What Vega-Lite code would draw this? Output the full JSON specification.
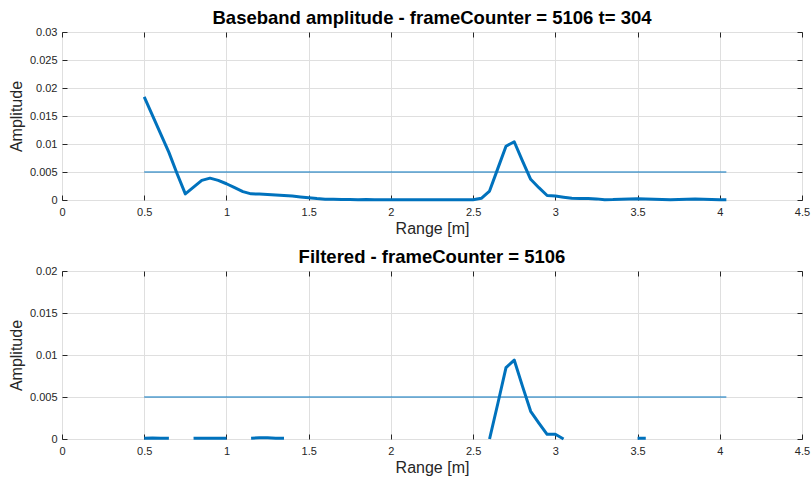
{
  "$schema": "https://vega.github.io/schema/vega-lite/v6.json",
  "padding": {"left": 7, "top": 8, "right": 5, "bottom": 4},
  "spacing": 71,
  "bounds": "flush",
  "background": "white",
  "config": {
    "font": "Liberation Sans",
    "view": {"stroke": "#262626", "strokeWidth": 1},
    "axis": {
      "labelFont": "Liberation Sans", "labelFontSize": 11, "labelColor": "#262626",
      "titleFont": "Liberation Sans", "titleFontSize": 16, "titleFontWeight": "normal", "titleColor": "#262626",
      "tickColor": "#262626", "tickSize": -5, "tickWidth": 1, "domain": false,
      "gridColor": "#dfdfdf", "gridWidth": 1, "labelFlush": false, "labelOverlap": false
    },
    "title": {"font": "Liberation Sans", "fontSize": 18.5, "fontWeight": "bold", "color": "#000000", "offset": -1, "anchor": "middle"}
  },
  "datasets": {
    "base": [
      {"x": 0.5, "y": 0.0184}, {"x": 0.55, "y": 0.0151}, {"x": 0.6, "y": 0.0118}, {"x": 0.65, "y": 0.0085},
      {"x": 0.7, "y": 0.0047}, {"x": 0.75, "y": 0.0011}, {"x": 0.8, "y": 0.0023}, {"x": 0.85, "y": 0.0035},
      {"x": 0.9, "y": 0.0039}, {"x": 0.95, "y": 0.0035}, {"x": 1.0, "y": 0.0029}, {"x": 1.05, "y": 0.0022},
      {"x": 1.1, "y": 0.0015}, {"x": 1.15, "y": 0.0011}, {"x": 1.2, "y": 0.00105}, {"x": 1.25, "y": 0.001},
      {"x": 1.3, "y": 0.0009}, {"x": 1.35, "y": 0.0008}, {"x": 1.4, "y": 0.0007}, {"x": 1.45, "y": 0.00055},
      {"x": 1.5, "y": 0.0004}, {"x": 1.55, "y": 0.00025}, {"x": 1.6, "y": 0.00015}, {"x": 1.65, "y": 0.00012},
      {"x": 1.7, "y": 0.0001}, {"x": 1.75, "y": 0.0001}, {"x": 1.8, "y": 0.00005}, {"x": 1.85, "y": 0.00008},
      {"x": 1.9, "y": 0.00006}, {"x": 1.95, "y": 0.00004}, {"x": 2.0, "y": 0.00005}, {"x": 2.05, "y": 0.00006},
      {"x": 2.1, "y": 0.00004}, {"x": 2.15, "y": 0.00005}, {"x": 2.2, "y": 0.00006}, {"x": 2.25, "y": 0.00004},
      {"x": 2.3, "y": 0.00005}, {"x": 2.35, "y": 0.00003}, {"x": 2.4, "y": 0.00005}, {"x": 2.45, "y": 0.00004},
      {"x": 2.5, "y": 0.00006}, {"x": 2.55, "y": 0.0003}, {"x": 2.6, "y": 0.0016}, {"x": 2.65, "y": 0.0056},
      {"x": 2.7, "y": 0.0096}, {"x": 2.75, "y": 0.0104}, {"x": 2.8, "y": 0.007}, {"x": 2.85, "y": 0.0037},
      {"x": 2.9, "y": 0.0022}, {"x": 2.95, "y": 0.0008}, {"x": 3.0, "y": 0.0007}, {"x": 3.05, "y": 0.0005},
      {"x": 3.1, "y": 0.0003}, {"x": 3.15, "y": 0.00028}, {"x": 3.2, "y": 0.00028}, {"x": 3.25, "y": 0.0002},
      {"x": 3.3, "y": 0.00005}, {"x": 3.35, "y": 0.00008}, {"x": 3.4, "y": 0.00015}, {"x": 3.45, "y": 0.0002},
      {"x": 3.5, "y": 0.00022}, {"x": 3.55, "y": 0.0002}, {"x": 3.6, "y": 0.00015}, {"x": 3.65, "y": 0.0001},
      {"x": 3.7, "y": 0.00005}, {"x": 3.75, "y": 0.00008}, {"x": 3.8, "y": 0.00012}, {"x": 3.85, "y": 0.00018},
      {"x": 3.9, "y": 0.00015}, {"x": 3.95, "y": 0.0001}, {"x": 4.0, "y": 0.00005}, {"x": 4.04, "y": 0.00005}
    ],
    "filt": [
      {"x": 0.5, "y": 0.0001}, {"x": 0.55, "y": 0.00012}, {"x": 0.6, "y": 0.0001}, {"x": 0.65, "y": 0.00008},
      {"x": 0.7, "y": null}, {"x": 0.75, "y": null}, {"x": 0.8, "y": 0.00008}, {"x": 0.85, "y": 0.0001},
      {"x": 0.9, "y": 0.0001}, {"x": 0.95, "y": 0.0001}, {"x": 1.0, "y": 0.00008}, {"x": 1.05, "y": null},
      {"x": 1.1, "y": null}, {"x": 1.15, "y": 0.0001}, {"x": 1.2, "y": 0.00015}, {"x": 1.25, "y": 0.00015},
      {"x": 1.3, "y": 0.0001}, {"x": 1.35, "y": 0.00008}, {"x": 1.4, "y": null}, {"x": 1.45, "y": null},
      {"x": 1.5, "y": null}, {"x": 1.55, "y": null}, {"x": 1.6, "y": null}, {"x": 1.65, "y": null},
      {"x": 1.7, "y": null}, {"x": 1.75, "y": null}, {"x": 1.8, "y": null}, {"x": 1.85, "y": null},
      {"x": 1.9, "y": null}, {"x": 1.95, "y": null}, {"x": 2.0, "y": null}, {"x": 2.05, "y": null},
      {"x": 2.1, "y": null}, {"x": 2.15, "y": null}, {"x": 2.2, "y": null}, {"x": 2.25, "y": null},
      {"x": 2.3, "y": null}, {"x": 2.35, "y": null}, {"x": 2.4, "y": null}, {"x": 2.45, "y": null},
      {"x": 2.5, "y": null}, {"x": 2.55, "y": null}, {"x": 2.6, "y": 0.0}, {"x": 2.65, "y": 0.0042},
      {"x": 2.7, "y": 0.0085}, {"x": 2.75, "y": 0.0094}, {"x": 2.8, "y": 0.0063}, {"x": 2.85, "y": 0.0033},
      {"x": 2.9, "y": 0.0019}, {"x": 2.95, "y": 0.00056}, {"x": 3.0, "y": 0.00056}, {"x": 3.05, "y": 0.0},
      {"x": 3.1, "y": null}, {"x": 3.15, "y": null}, {"x": 3.2, "y": null}, {"x": 3.25, "y": null},
      {"x": 3.3, "y": null}, {"x": 3.35, "y": null}, {"x": 3.4, "y": null}, {"x": 3.45, "y": null},
      {"x": 3.5, "y": 0.0001}, {"x": 3.55, "y": 0.0001}, {"x": 3.6, "y": null}, {"x": 3.65, "y": null},
      {"x": 3.7, "y": null}, {"x": 3.75, "y": null}, {"x": 3.8, "y": null}, {"x": 3.85, "y": null},
      {"x": 3.9, "y": null}, {"x": 3.95, "y": null}, {"x": 4.0, "y": null}, {"x": 4.04, "y": null}
    ],
    "thr": [{"x": 0.5, "y": 0.005}, {"x": 4.04, "y": 0.005}]
  },
  "vconcat": [
    {
      "width": 740, "height": 168,
      "title": {"text": "Baseband amplitude - frameCounter = 5106 t= 304"},
      "layer": [
        {
          "data": {"name": "base"},
          "mark": {"type": "line", "color": "#0072BD", "strokeWidth": 3, "strokeJoin": "round"},
          "encoding": {
            "x": {"field": "x", "type": "quantitative", "scale": {"domain": [0, 4.5]},
                  "axis": {"orient": "bottom", "values": [0, 0.5, 1, 1.5, 2, 2.5, 3, 3.5, 4, 4.5], "format": "~g", "title": "Range [m]", "labelPadding": 11, "titlePadding": 3, "grid": true}},
            "y": {"field": "y", "type": "quantitative", "scale": {"domain": [0, 0.03]},
                  "axis": {"orient": "left", "values": [0, 0.005, 0.01, 0.015, 0.02, 0.025, 0.03], "format": "~g", "title": "Amplitude", "labelPadding": 10, "titlePadding": 5, "grid": true}}
          }
        },
        {
          "data": {"name": "thr"},
          "mark": {"type": "line", "color": "#0072BD", "strokeWidth": 1},
          "encoding": {
            "x": {"field": "x", "type": "quantitative", "scale": {"domain": [0, 4.5]},
                  "axis": {"orient": "top", "values": [0, 0.5, 1, 1.5, 2, 2.5, 3, 3.5, 4, 4.5], "labels": false, "grid": false, "title": null}},
            "y": {"field": "y", "type": "quantitative", "scale": {"domain": [0, 0.03]},
                  "axis": {"orient": "right", "values": [0, 0.005, 0.01, 0.015, 0.02, 0.025, 0.03], "labels": false, "grid": false, "title": null}}
          }
        }
      ],
      "resolve": {"axis": {"x": "independent", "y": "independent"}}
    },
    {
      "width": 740, "height": 168,
      "title": {"text": "Filtered - frameCounter = 5106"},
      "layer": [
        {
          "data": {"name": "filt"},
          "mark": {"type": "line", "color": "#0072BD", "strokeWidth": 3, "strokeJoin": "round", "invalid": "break-paths-show-domains"},
          "encoding": {
            "x": {"field": "x", "type": "quantitative", "scale": {"domain": [0, 4.5]},
                  "axis": {"orient": "bottom", "values": [0, 0.5, 1, 1.5, 2, 2.5, 3, 3.5, 4, 4.5], "format": "~g", "title": "Range [m]", "labelPadding": 11, "titlePadding": 3, "grid": true}},
            "y": {"field": "y", "type": "quantitative", "scale": {"domain": [0, 0.02]},
                  "axis": {"orient": "left", "values": [0, 0.005, 0.01, 0.015, 0.02], "format": "~g", "title": "Amplitude", "labelPadding": 10, "titlePadding": 5, "grid": true}}
          }
        },
        {
          "data": {"name": "thr"},
          "mark": {"type": "line", "color": "#0072BD", "strokeWidth": 1},
          "encoding": {
            "x": {"field": "x", "type": "quantitative", "scale": {"domain": [0, 4.5]},
                  "axis": {"orient": "top", "values": [0, 0.5, 1, 1.5, 2, 2.5, 3, 3.5, 4, 4.5], "labels": false, "grid": false, "title": null}},
            "y": {"field": "y", "type": "quantitative", "scale": {"domain": [0, 0.02]},
                  "axis": {"orient": "right", "values": [0, 0.005, 0.01, 0.015, 0.02], "labels": false, "grid": false, "title": null}}
          }
        }
      ],
      "resolve": {"axis": {"x": "independent", "y": "independent"}}
    }
  ]
}
